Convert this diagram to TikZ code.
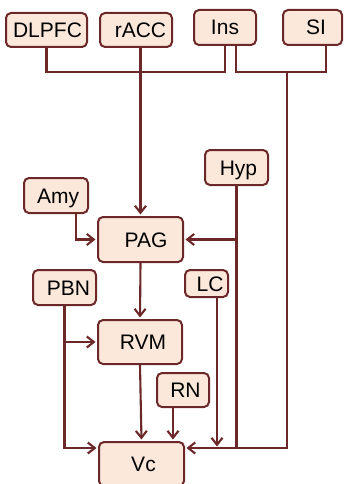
\documentclass[tikz,border=0pt]{standalone}
\usepackage{fontspec}
\setmainfont{Liberation Sans}
\usetikzlibrary{arrows.meta,calc}
\definecolor{edge}{RGB}{108,40,40}
\definecolor{boxfill}{RGB}{252,232,218}
\begin{document}
\begin{tikzpicture}[x=1pt,y=-1pt,
  box/.style={draw=edge, fill=boxfill, line width=2pt, rounded corners=5pt,
    inner sep=0pt, font=\fontsize{21pt}{24pt}\selectfont,
    text height=15pt, text depth=0pt},
  wire/.style={draw=edge, line width=2.1pt},
  arr/.style={wire, shorten >=1.5pt, -{Straight Barb[length=7pt,width=11pt]}}]
\useasboundingbox (0,0) rectangle (345,484);
% nodes
\node[box, minimum width=81pt, minimum height=34pt] (dlpfc) at (46.5,30) {\hspace*{2pt}DLPFC};
\node[box, minimum width=72pt, minimum height=34pt] (racc) at (136,30) {\hspace*{9pt}rACC};
\node[box, minimum width=62pt, minimum height=35pt] (ins) at (225,27.5) {Ins};
\node[box, minimum width=59pt, minimum height=35pt] (si) at (312.5,27.5) {\hspace*{7pt}SI};
\node[box, minimum width=63pt, minimum height=35pt] (hyp) at (236.5,167.5) {\hspace*{4pt}Hyp};
\node[box, minimum width=64pt, minimum height=35pt] (amy) at (56,195.5) {\hspace*{4pt}Amy};
\node[box, minimum width=85pt, minimum height=45pt] (pag) at (140.5,239.5) {\hspace*{11pt}PAG};
\node[box, minimum width=63pt, minimum height=35pt] (pbn) at (64.5,287.5) {\hspace*{8pt}PBN};
\node[box, minimum width=43pt, minimum height=27pt] (lc) at (206.5,283.5) {\hspace*{7pt}LC};
\node[box, minimum width=84pt, minimum height=44pt] (rvm) at (140,342) {\hspace*{6pt}RVM};
\node[box, minimum width=52pt, minimum height=34pt] (rn) at (183,390) {\hspace*{5pt}RN};
\node[box, minimum width=85pt, minimum height=44pt] (vc) at (141.5,464) {\hspace*{4pt}Vc};
% helper coordinates
\coordinate (rowA) at (0,72);
\coordinate (rowV) at (0,448);
\coordinate (insR) at ($(ins.south)+(11,0)$);
\coordinate (siR) at ($(si.south)+(13.5,0)$);
\coordinate (siDrop) at (287,72);
\coordinate (amyR) at ($(amy.south)+(20,0)$);
\coordinate (lcR) at ($(lc.south)+(10.5,0)$);
\coordinate (rnL) at ($(rn.south)+(-10,0)$);
% connectors
\draw[wire] (dlpfc.south) |- (ins.south |- rowA) -- (ins.south);
\draw[arr] (pag.north |- racc.south) -- (pag.north);
\draw[wire] (insR) |- (siR |- rowA) -- (siR);
\draw[arr] (siDrop) |- (vc.east |- rowV);
\draw[wire] (hyp.south) -- (hyp.south |- rowV);
\draw[arr] (hyp.south |- pag.east) -- (pag.east);
\draw[arr] (amyR) |- (pag.west);
\draw[arr] (pag.south) -- (rvm.north);
\draw[arr] (pbn.south) |- (vc.west |- rowV);
\draw[arr] (pbn.south |- rvm.west) -- (rvm.west);
\draw[arr] (lcR) -- (lcR |- rowV);
\draw[arr] (rnL) -- (rnL |- vc.north);
\draw[arr] (rvm.south) -- (vc.north);
\end{tikzpicture}
\end{document}
